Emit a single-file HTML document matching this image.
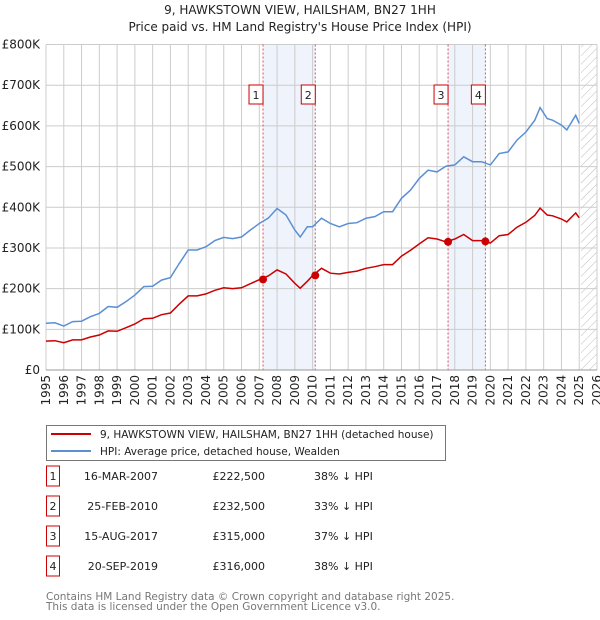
<!DOCTYPE html>
<html><head><meta charset="utf-8">
<style>
body{margin:0;background:#fff;font-family:"Liberation Sans","DejaVu Sans",sans-serif;}
#wrap{position:relative;width:600px;height:620px;overflow:hidden}
svg text{font-family:"DejaVu Sans","Liberation Sans",sans-serif}
</style></head>
<body><div id="wrap">
<svg id="chart" width="600" height="620"></svg>
</div>
<script>
const years=[1995,1995.5,1996,1996.5,1997,1997.5,1998,1998.5,1999,1999.5,2000,2000.5,2001,2001.5,2002,2002.5,2003,2003.5,2004,2004.5,2005,2005.5,2006,2006.5,2007,2007.5,2008,2008.5,2009,2009.3,2009.7,2010,2010.5,2011,2011.5,2012,2012.5,2013,2013.5,2014,2014.5,2015,2015.5,2016,2016.5,2017,2017.5,2018,2018.5,2019,2019.5,2020,2020.5,2021,2021.5,2022,2022.5,2022.8,2023.2,2023.5,2024,2024.3,2024.8,2025];
const hpiValues=[115,116,108,119,120,131,139,156,154,168,184,205,206,221,227,262,295,295,303,318,326,323,327,344,360,373,397,381,344,327,352,352,373,360,352,360,362,373,377,389,389,422,442,471,491,487,501,504,524,512,512,504,532,536,565,585,614,645,618,614,602,590,626,606];
const priceValues=[71,72,67,74,74,81,86,96,95,104,113,126,127,136,140,162,182,182,187,196,202,200,202,212,222,231,246,236,213,201,218,232,250,238,236,240,243,250,254,259,259,280,294,310,325,322,315,322,333,318,318,312,330,333,351,363,380,398,381,379,371,364,386,374];
const saleLabels=["1","2","3","4"];
const saleYears=[2007.21,2010.15,2017.62,2019.72];
const salePrices=[222.5,232.5,315,316];
const yTicks=[0,100,200,300,400,500,600,700,800];
const yTickLabels=["£0","£100K","£200K","£300K","£400K","£500K","£600K","£700K","£800K"];
const xTicks=[1995,1996,1997,1998,1999,2000,2001,2002,2003,2004,2005,2006,2007,2008,2009,2010,2011,2012,2013,2014,2015,2016,2017,2018,2019,2020,2021,2022,2023,2024,2025,2026];

const NS="http://www.w3.org/2000/svg";
const svg=document.getElementById('chart');
const L=46,R=597,T=44.5,B=370;
const X=y=>L+(y-1995)/(2026-1995)*(R-L);
const Y=v=>B-v/800*(B-T);
function el(tag,attrs,parent){const e=document.createElementNS(NS,tag);for(const k in attrs)e.setAttribute(k,attrs[k]);(parent||svg).appendChild(e);return e;}
function txt(s,attrs){const e=el('text',attrs);e.textContent=s;return e;}

const t1=txt("9, HAWKSTOWN VIEW, HAILSHAM, BN27 1HH",{x:300,y:14,"text-anchor":"middle","font-size":12,fill:"#222"});


const t2=txt("Price paid vs. HM Land Registry's House Price Index (HPI)",{x:300,y:31,"text-anchor":"middle","font-size":12,fill:"#222"});



for(let i=0;i<4;i+=2){
 const r=el('rect',{x:X(saleYears[i]),y:T,width:X(saleYears[i+1])-X(saleYears[i]),height:B-T,fill:"#eef3fc"});
 
 
}
const defs=el('defs',{});
const pat=el('pattern',{id:"hatch",width:6,height:6,patternUnits:"userSpaceOnUse",patternTransform:"rotate(45)"},defs);
el('line',{x1:0,y1:0,x2:0,y2:6,stroke:"#bbb","stroke-width":1},pat);
const hz=el('rect',{x:X(2025.1),y:T,width:R-X(2025.1),height:B-T,fill:"url(#hatch)"});



xTicks.forEach(t=>{
 const g=el('line',{x1:X(t),x2:X(t),y1:T,y2:B,stroke:"#ccc","stroke-width":1});
 
 
 const lb=txt(String(t),{x:0,y:0,transform:`translate(${X(t)+4},${375}) rotate(-90)`,"text-anchor":"end","font-size":12,fill:"#222"});
 
 
});
yTicks.forEach((t,i)=>{
 const g=el('line',{x1:L,x2:R,y1:Y(t),y2:Y(t),stroke:"#ccc","stroke-width":1});
 
 
 const lb=txt(yTickLabels[i],{x:40,y:Y(t)+4,"text-anchor":"end","font-size":12,fill:"#222"});
 
 
});
saleYears.forEach((s,i)=>{
 const l=el('line',{x1:X(s),x2:X(s),y1:T,y2:B,stroke:"#e05050","stroke-width":1,"stroke-dasharray":"2,2"});
 
 
 const bx=el('rect',{x:X(s)-14,y:85,width:14,height:19,fill:"#fff",stroke:"#cc0000","stroke-width":1});
 
 
 const tl=txt(saleLabels[i],{x:X(s)-7,y:99,"text-anchor":"middle","font-size":11,fill:"#222"});
 
 
});
function pathOf(vals){return vals.map((v,i)=>(i?'L':'M')+X(years[i]).toFixed(1)+','+Y(v).toFixed(1)).join(' ');}
const hp=el('path',{d:pathOf(hpiValues),fill:"none",stroke:"#5b8fd4","stroke-width":1.5});


const pp=el('path',{d:pathOf(priceValues),fill:"none",stroke:"#cc0000","stroke-width":1.5});


saleYears.forEach((s,i)=>{
 const c=el('circle',{cx:X(s),cy:Y(salePrices[i]),r:4,fill:"#cc0000"});
 
 
});
const bl=el('line',{x1:L,x2:R,y1:B,y2:B,stroke:"#999","stroke-width":1});



const lg=el('rect',{x:46.5,y:425.5,width:399,height:35,fill:"#fff",stroke:"#777","stroke-width":1});


const l1=el('line',{x1:51,x2:91,y1:434,y2:434,stroke:"#cc0000","stroke-width":2});


const lt1=txt("9, HAWKSTOWN VIEW, HAILSHAM, BN27 1HH (detached house)",{x:100,y:438,"font-size":10.5,fill:"#222"});


const l2=el('line',{x1:51,x2:91,y1:451,y2:451,stroke:"#5b8fd4","stroke-width":2});


const lt2=txt("HPI: Average price, detached house, Wealden",{x:100,y:455,"font-size":10.5,fill:"#222"});



const dates=["16-MAR-2007","25-FEB-2010","15-AUG-2017","20-SEP-2019"];
const prices=["£222,500","£232,500","£315,000","£316,000"];
const pcts=["38% ↓ HPI","33% ↓ HPI","37% ↓ HPI","38% ↓ HPI"];
dates.forEach((d,i)=>{
 const yy=479+i*30;
 const b=el('rect',{x:46.5,y:yy-13,width:13,height:20,fill:"#fff",stroke:"#cc0000","stroke-width":1});
 
 
 const n=txt(saleLabels[i],{x:53,y:yy+1,"text-anchor":"middle","font-size":11,fill:"#222"});
 
 
 const dt=txt(d,{x:158,y:yy+1,"text-anchor":"end","font-size":11,fill:"#222"});
 
 
 const pr=txt(prices[i],{x:265,y:yy+1,"text-anchor":"end","font-size":11,fill:"#222"});
 
 
 const pc=txt(pcts[i],{x:314,y:yy+1,"font-size":11,fill:"#222"});
 
 
});
const f1=txt("Contains HM Land Registry data © Crown copyright and database right 2025.",{x:46,y:600,"font-size":10.5,fill:"#777"});


const f2=txt("This data is licensed under the Open Government Licence v3.0.",{x:46,y:610,"font-size":10.5,fill:"#777"});


</script>
</body></html>
